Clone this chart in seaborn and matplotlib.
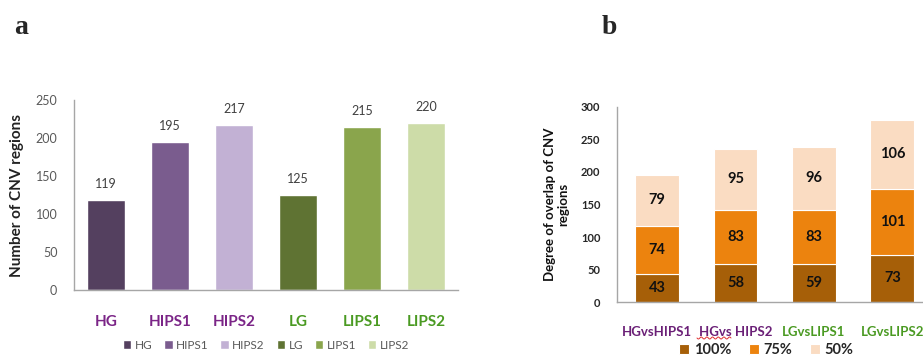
import matplotlib
matplotlib.use("Agg")
import matplotlib.pyplot as plt
import seaborn as sns
import pandas as pd
import numpy as np
from matplotlib.lines import Line2D

sns.set_style("white")
plt.rcParams['font.family'] = ['Lato', 'DejaVu Sans']

# ---- data panel a ----
samples = ["HG", "HIPS1", "HIPS2", "LG", "LIPS1", "LIPS2"]
cnv_counts = [119, 195, 217, 125, 215, 220]
sample_colors = ["#54405F", "#7A5C8E", "#C2B1D4", "#5F7333", "#8AA54C", "#CDDCA8"]
label_colors_a = ["#7B2587", "#7B2587", "#7B2587", "#4A9A22", "#4A9A22", "#4A9A22"]

# ---- data panel b ----
comparisons = ["HGvsHIPS1", "HGvs HIPS2", "LGvsLIPS1", "LGvsLIPS2"]
overlap_100 = [43, 58, 59, 73]
overlap_75 = [74, 83, 83, 101]
overlap_50 = [79, 95, 96, 106]
overlap_names = ["100%", "75%", "50%"]
overlap_colors = ["#A65F08", "#EC830E", "#FADCC2"]
label_colors_b = ["#6B2077", "#6B2077", "#4A9A22", "#4A9A22"]

fig = plt.figure(figsize=(9.23, 3.6), dpi=100)

# ---------------- panel a ----------------
axa = fig.add_axes([0.0802, 0.1944, 0.4160, 0.5278])
dfa = pd.DataFrame({"sample": samples, "count": cnv_counts})
sns.barplot(data=dfa, x="sample", y="count", hue="sample", palette=sample_colors,
            width=0.58, ax=axa, legend=True, saturation=1)
axa.set_ylim(0, 250)
axa.set_xlim(-0.5, 5.5)
axa.set_yticks(np.arange(0, 251, 50))
axa.tick_params(axis="y", labelsize=9, colors="#595959", length=0, pad=12)
axa.tick_params(axis="x", length=0, pad=18)
axa.set_xticks(range(len(samples)))
axa.set_xticklabels(samples, fontsize=11, fontweight="bold")
for t, c in zip(axa.get_xticklabels(), label_colors_a):
    t.set_color(c)
for s in ["top", "right"]:
    axa.spines[s].set_visible(False)
for s in ["left", "bottom"]:
    axa.spines[s].set_color("#A6A6A6")
    axa.spines[s].set_linewidth(1.0)
axa.set_xlabel("")
axa.set_ylabel("Number of CNV regions", fontsize=11, fontweight="bold", color="#222222", labelpad=8)
for p, v in zip(axa.patches, cnv_counts):
    axa.annotate(str(v), (p.get_x() + p.get_width() / 2, v), xytext=(0, 7),
                 textcoords="offset points", ha="center", va="bottom",
                 fontsize=9, color="#404040")
axa.legend(ncol=6, frameon=False, loc="center", bbox_to_anchor=(0.5, -0.29),
           fontsize=8.5, handlelength=0.7, handleheight=0.7, handletextpad=0.3,
           columnspacing=1.0, labelcolor="#595959")

# ---------------- panel b ----------------
axb = fig.add_axes([0.6685, 0.1611, 0.3315, 0.5417])
bottoms = np.zeros(len(comparisons))
series = [overlap_100, overlap_75, overlap_50]
for name, vals, col in zip(overlap_names, series, overlap_colors):
    sns.barplot(x=comparisons, y=vals, color=col, width=0.56, ax=axb,
                bottom=bottoms, label=name, saturation=1,
                edgecolor="white", linewidth=0.8)
    for i, v in enumerate(vals):
        axb.text(i, bottoms[i] + v / 2, str(v), ha="center", va="center",
                 fontsize=10.5, fontweight="bold", color="#111111")
    bottoms = bottoms + np.array(vals)
axb.set_ylim(0, 300)
axb.set_xlim(-0.51, 3.39)
axb.set_yticks(np.arange(0, 301, 50))
axb.set_yticklabels([str(v) for v in range(0, 301, 50)], fontsize=8, fontweight="bold")
axb.tick_params(axis="y", length=0, pad=12)
axb.tick_params(axis="x", length=0, pad=17)
axb.set_xticks(range(len(comparisons)))
axb.set_xticklabels(comparisons, fontsize=9.5, fontweight="bold")
for t, c in zip(axb.get_xticklabels(), label_colors_b):
    t.set_color(c)
for s in ["top", "right"]:
    axb.spines[s].set_visible(False)
for s in ["left", "bottom"]:
    axb.spines[s].set_color("#A6A6A6")
    axb.spines[s].set_linewidth(1.0)
axb.set_ylabel("Degree of overlap of CNV\nregions", fontsize=9.5, fontweight="bold",
               color="#111111", labelpad=8)
axb.legend(ncol=3, frameon=False, loc="center", bbox_to_anchor=(0.487, -0.245),
           handlelength=0.7, handleheight=0.7, handletextpad=0.3,
           columnspacing=1.2, prop={"weight": "bold", "size": 10.5})

# spell-check wavy underline under "HGvs"
xs = np.linspace(697, 731, 60)
ys = 338 + 1.0 * np.sin((xs - 697) / 34 * 2 * np.pi * 6)
fig.add_artist(Line2D(xs / 923, 1 - ys / 360, color="#E03030", lw=0.7))

# panel letters
fig.text(0.015, 0.925, "a", fontsize=20, fontweight="bold", family="Liberation Serif", va="center")
fig.text(0.652, 0.925, "b", fontsize=20, fontweight="bold", family="Liberation Serif", va="center")

fig.savefig("out.png", dpi=100)
